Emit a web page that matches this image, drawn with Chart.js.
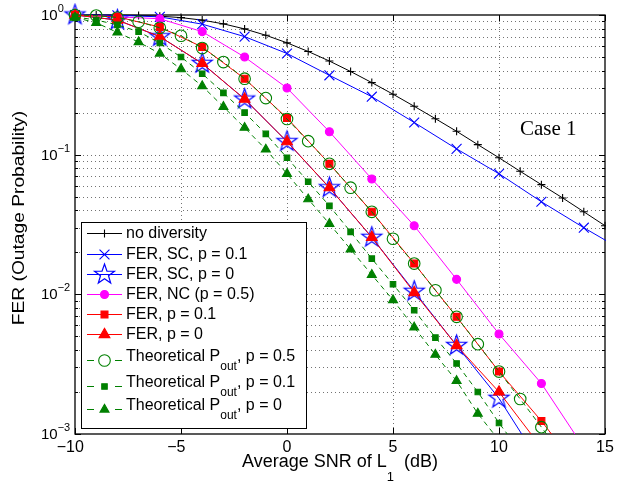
<!DOCTYPE html>
<html>
<head>
<meta charset="utf-8">
<script src="https://cdn.jsdelivr.net/npm/chart.js@4.4.0/dist/chart.umd.min.js"></script>
<style>
  html, body { margin: 0; padding: 0; background: #fff; }
  canvas { display: block; }
</style>
</head>
<body>
<canvas id="ferChart" width="642" height="482"></canvas>
<script>
// SNR grids (dB)
const snrStep1 = [-10, -9, -8, -7, -6, -5, -4, -3, -2, -1, 0, 1, 2, 3, 4, 5, 6, 7, 8, 9, 10, 11, 12, 13, 14, 15, 16];
const snrStep2 = [-10, -8, -6, -4, -2, 0, 2, 4, 6, 8, 10, 12, 14, 16];

// FER / outage values
const noDiversity = [1.0, 0.9996, 0.998, 0.993, 0.981, 0.958, 0.919, 0.864, 0.795, 0.716, 0.632, 0.548, 0.468,
  0.394, 0.328, 0.271, 0.222, 0.181, 0.147, 0.118, 0.095, 0.076, 0.061, 0.049, 0.039, 0.031];
const ferScP01 = [1.0, 0.995, 0.97, 0.86, 0.70, 0.53, 0.37, 0.26, 0.17, 0.11, 0.073, 0.046, 0.030, 0.020];
const ferScP0 = [1.0, 0.92, 0.70, 0.45, 0.25, 0.124, 0.058, 0.0256, 0.0105, 0.0043, 0.0018, 0.0006];
const ferNc = [1.0, 0.97, 0.94, 0.76, 0.50, 0.30, 0.146, 0.067, 0.031, 0.0128, 0.0052, 0.0023, 0.0008];
const ferP01 = [1.0, 0.97, 0.82, 0.59, 0.35, 0.183, 0.086, 0.039, 0.0166, 0.0069, 0.0028, 0.00124, 0.0005];
const ferP0 = [1.0, 0.92, 0.70, 0.45, 0.25, 0.124, 0.058, 0.0256, 0.0103, 0.0043, 0.0020, 0.0008];
const theoP05 = [1.0, 0.99, 0.96, 0.895, 0.81, 0.71, 0.58, 0.46, 0.35, 0.254, 0.18, 0.125, 0.086, 0.058,
  0.039, 0.025, 0.0166, 0.0107, 0.0069, 0.0044, 0.0028, 0.00178, 0.00112, 0.0007];
const theoP01 = [0.97, 0.92, 0.85, 0.76, 0.63, 0.50, 0.38, 0.277, 0.20, 0.141, 0.095, 0.064, 0.043, 0.028,
  0.018, 0.0118, 0.0077, 0.0049, 0.0032, 0.0020, 0.0012, 0.00075];
const theoP0 = [0.96, 0.88, 0.75, 0.64, 0.53, 0.41, 0.31, 0.22, 0.156, 0.109, 0.073, 0.048, 0.032, 0.021,
  0.0138, 0.0091, 0.0058, 0.0037, 0.0024, 0.0014, 0.0009];

// axes
const xTicks = [-10, -5, 0, 5, 10, 15];
const yTicks = [1, 0.1, 0.01, 0.001];
const yTickExp = ['0', '\u22121', '\u22122', '\u22123'];

const legendLabels = [
  'no diversity',
  'FER, SC, p = 0.1',
  'FER, SC, p = 0',
  'FER, NC (p = 0.5)',
  'FER, p = 0.1',
  'FER, p = 0',
  'Theoretical P_{out}, p = 0.5',
  'Theoretical P_{out}, p = 0.1',
  'Theoretical P_{out}, p = 0'
];

const SANS = '"Liberation Sans", Arial, Helvetica, sans-serif';

// 5-point star marker (Chart.js has no pentagram)
const makeStar = (r, color) => {
  const c = document.createElement('canvas');
  const s = Math.ceil(r * 2 + 4);
  c.width = s; c.height = s;
  const g = c.getContext('2d');
  g.beginPath();
  for (let i = 0; i < 10; i++) {
    const a = -Math.PI / 2 + i * Math.PI / 5;
    const rr = i % 2 ? r * 0.4 : r;
    g.lineTo(s / 2 + rr * Math.cos(a), s / 2 + rr * Math.sin(a));
  }
  g.closePath();
  g.strokeStyle = color;
  g.lineWidth = 1.2;
  g.stroke();
  return c;
};
const starImg = makeStar(10.5, '#0000ff');

const series = [
  { x: snrStep1, y: noDiversity, color: '#000000', mark: 'cross', r: 4, fill: false, dash: [] },
  { x: snrStep2, y: ferScP01, color: '#0000ff', mark: 'crossRot', r: 7, fill: false, dash: [] },
  { x: snrStep2, y: ferScP0, color: '#0000ff', mark: 'star', r: 10.5, fill: false, dash: [] },
  { x: snrStep2, y: ferNc, color: '#ff00ff', mark: 'circle', r: 4, fill: true, dash: [] },
  { x: snrStep2, y: ferP01, color: '#ff0000', mark: 'rect', r: 4.9, fill: true, dash: [] },
  { x: snrStep2, y: ferP0, color: '#ff0000', mark: 'triangle', r: 6.2, fill: true, dash: [] },
  { x: snrStep1, y: theoP05, color: '#008000', mark: 'circle', r: 5.8, fill: false, dash: [5, 4] },
  { x: snrStep1, y: theoP01, color: '#008000', mark: 'rect', r: 3.9, fill: true, dash: [5, 4] },
  { x: snrStep1, y: theoP0, color: '#008000', mark: 'triangle', r: 5.2, fill: true, dash: [5, 4] }
];

const datasets = series.map((s, i) => ({
  label: legendLabels[i],
  data: s.y.map((v, k) => ({ x: s.x[k], y: v })),
  borderColor: s.color,
  borderWidth: 1,
  borderDash: s.dash,
  backgroundColor: s.fill ? s.color : 'rgba(0,0,0,0)',
  pointStyle: s.mark === 'star' ? starImg : s.mark,
  pointRadius: s.r,
  pointBorderWidth: 1.1,
  pointBorderColor: s.color,
  pointBackgroundColor: s.fill ? s.color : 'rgba(0,0,0,0)',
  fill: false,
  tension: 0,
  order: 20 - i,
  clip: { left: 14, top: 14, right: 1, bottom: 0 }
}));

// draws text with _{sub} and ^{sup} parts, returns width
const drawRich = (ctx, text, x, y, size, opt = {}) => {
  const subSize = opt.subSize || size * 0.72;
  const subDy = opt.subDy || size * 0.6;
  const supDy = opt.supDy || -size * 0.45;
  const parts = text.split(/([_^]\{[^}]*\})/);
  let cx = x;
  parts.forEach(p => {
    if (!p) return;
    let s = size, dy = 0, t = p;
    if (p.startsWith('_{')) { t = p.slice(2, -1); s = subSize; dy = subDy; }
    else if (p.startsWith('^{')) { t = p.slice(2, -1); s = subSize; dy = supDy; }
    ctx.font = `${s}px ${SANS}`;
    if (!opt.measure) ctx.fillText(t, cx, y + dy);
    cx += ctx.measureText(t).width;
  });
  return cx - x;
};

const drawMark = (ctx, s, x, y) => {
  const r = s.r;
  ctx.save();
  ctx.strokeStyle = s.color;
  ctx.fillStyle = s.color;
  ctx.lineWidth = 1.1;
  ctx.setLineDash([]);
  ctx.beginPath();
  if (s.mark === 'star') {
    ctx.drawImage(starImg, x - starImg.width / 2, y - starImg.height / 2);
  } else if (s.mark === 'cross') {
    ctx.moveTo(x - r, y); ctx.lineTo(x + r, y);
    ctx.moveTo(x, y - r); ctx.lineTo(x, y + r);
    ctx.stroke();
  } else if (s.mark === 'crossRot') {
    const d = r * Math.SQRT1_2;
    ctx.moveTo(x - d, y - d); ctx.lineTo(x + d, y + d);
    ctx.moveTo(x - d, y + d); ctx.lineTo(x + d, y - d);
    ctx.stroke();
  } else if (s.mark === 'circle') {
    ctx.arc(x, y, r, 0, Math.PI * 2);
    if (s.fill) ctx.fill();
    ctx.stroke();
  } else if (s.mark === 'rect') {
    const d = r * Math.SQRT1_2;
    ctx.rect(x - d, y - d, 2 * d, 2 * d);
    ctx.fill();
    ctx.stroke();
  } else if (s.mark === 'triangle') {
    for (let k = 0; k < 3; k++) {
      const a = k * 2 * Math.PI / 3;
      ctx.lineTo(x + Math.sin(a) * r, y - Math.cos(a) * r);
    }
    ctx.closePath();
    ctx.fill();
    ctx.stroke();
  }
  ctx.restore();
};

const decorPlugin = {
  id: 'decor',
  beforeDatasetsDraw(chart) {
    const { ctx, chartArea: a, scales: { x, y } } = chart;
    ctx.save();
    // dotted grid
    ctx.strokeStyle = 'rgba(0,0,0,0.55)';
    ctx.lineWidth = 1;
    ctx.setLineDash([1, 3]);
    ctx.beginPath();
    xTicks.slice(1, -1).forEach(v => {
      const px = Math.round(x.getPixelForValue(v)) + 0.5;
      ctx.moveTo(px, a.top); ctx.lineTo(px, a.bottom);
    });
    yTicks.slice(1).forEach(d => {
      for (let m = 1; m <= 9; m++) {
        const v = d * m;
        if (v >= 1 || v <= 0.001) continue;
        const py = Math.round(y.getPixelForValue(v)) + 0.5;
        ctx.moveTo(a.left, py); ctx.lineTo(a.right, py);
      }
    });
    ctx.stroke();
    ctx.setLineDash([]);

    // box and inward ticks
    ctx.strokeStyle = '#000';
    ctx.lineWidth = 1.3;
    ctx.strokeRect(a.left, a.top, a.right - a.left, a.bottom - a.top);
    ctx.lineWidth = 1;
    ctx.beginPath();
    xTicks.forEach(v => {
      const px = Math.round(x.getPixelForValue(v)) + 0.5;
      ctx.moveTo(px, a.bottom); ctx.lineTo(px, a.bottom - 6);
      ctx.moveTo(px, a.top); ctx.lineTo(px, a.top + 6);
    });
    yTicks.slice(1).forEach(d => {
      for (let m = 1; m <= 10; m++) {
        const v = d * m;
        const len = (m === 1 || m === 10) ? 6 : 3;
        const py = Math.round(y.getPixelForValue(v)) + 0.5;
        ctx.moveTo(a.left, py); ctx.lineTo(a.left + len, py);
        ctx.moveTo(a.right, py); ctx.lineTo(a.right - len, py);
      }
    });
    ctx.stroke();
    ctx.restore();
  },
  afterDatasetsDraw(chart) {
    const { ctx, chartArea: a, scales: { x, y } } = chart;
    ctx.save();
    ctx.fillStyle = '#000';
    ctx.textBaseline = 'middle';

    // x tick labels (digits centred on the tick, minus hanging left)
    ctx.font = `16px ${SANS}`;
    ctx.textAlign = 'center';
    const minusW = ctx.measureText('\u2212').width;
    xTicks.forEach(v => {
      const px = x.getPixelForValue(v);
      const txt = v < 0 ? '\u2212' + Math.abs(v) : String(v);
      ctx.fillText(txt, v < 0 ? px - minusW / 2 : px, a.bottom + 14);
    });

    // y tick labels 10^k
    ctx.textAlign = 'left';
    yTicks.forEach((v, i) => {
      const py = y.getPixelForValue(v);
      drawRich(ctx, '10^{' + yTickExp[i] + '}', 41, py + 1, 15, { subSize: 11, supDy: -7 });
    });

    // x title
    const xTitle = 'Average SNR of L_{1}  (dB)';
    const w = drawRich(ctx, xTitle, 0, 0, 18, { measure: true, subSize: 13, subDy: 15 });
    drawRich(ctx, xTitle, (a.left + a.right) / 2 - w / 2, 462, 18, { subSize: 13, subDy: 15 });

    // y title
    ctx.save();
    ctx.translate(20, 218);
    ctx.rotate(-Math.PI / 2);
    ctx.scale(1.2, 1);
    ctx.textAlign = 'center';
    ctx.font = `16px ${SANS}`;
    ctx.fillText('FER (Outage Probability)', 0, 0);
    ctx.restore();

    // annotation
    ctx.font = '21px "Liberation Serif", "Times New Roman", serif';
    ctx.textAlign = 'left';
    ctx.fillText('Case 1', 520, 129);

    // legend
    const L = { left: 81, top: 222, right: 306, bottom: 428 };
    ctx.fillStyle = '#fff';
    ctx.fillRect(L.left, L.top, L.right - L.left, L.bottom - L.top);
    ctx.strokeStyle = '#000';
    ctx.lineWidth = 1;
    ctx.strokeRect(L.left + 0.5, L.top + 0.5, L.right - L.left, L.bottom - L.top);
    const rowY = [233, 254, 274, 294, 314, 334, 360, 386, 409];
    series.forEach((s, i) => {
      const ry = rowY[i];
      ctx.save();
      ctx.strokeStyle = s.color;
      ctx.lineWidth = 1;
      ctx.beginPath();
      if (s.dash.length) {
        ctx.moveTo(87, ry + 0.5); ctx.lineTo(94, ry + 0.5);
        ctx.moveTo(115, ry + 0.5); ctx.lineTo(122, ry + 0.5);
      } else {
        ctx.moveTo(87, ry + 0.5); ctx.lineTo(122, ry + 0.5);
      }
      ctx.stroke();
      ctx.restore();
      drawMark(ctx, s, 104.5, ry + 0.5);
      ctx.fillStyle = '#000';
      ctx.textAlign = 'left';
      const ty = s.dash.length ? ry - 3 : ry + 1;
      drawRich(ctx, legendLabels[i], 126, ty, 16, { subSize: 12, subDy: 10 });
    });
    ctx.restore();
  }
};

new Chart(document.getElementById('ferChart'), {
  type: 'line',
  data: { datasets },
  options: {
    responsive: false,
    maintainAspectRatio: false,
    animation: false,
    layout: { padding: { left: 75, right: 37, top: 15, bottom: 48 } },
    scales: {
      x: { type: 'linear', min: -10, max: 15, display: false },
      y: { type: 'logarithmic', min: 0.001, max: 1, display: false }
    },
    plugins: {
      legend: { display: false },
      tooltip: { enabled: false }
    }
  },
  plugins: [decorPlugin]
});
</script>
</body>
</html>
